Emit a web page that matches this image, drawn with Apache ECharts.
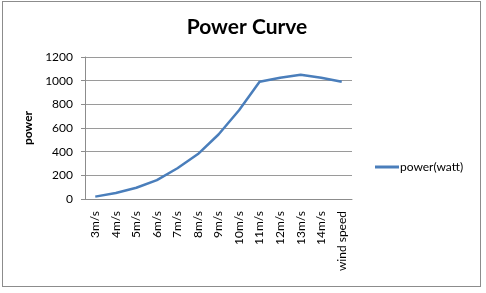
<!DOCTYPE html>
<html>
<head>
<meta charset="utf-8">
<script src="https://cdn.jsdelivr.net/npm/echarts@6/dist/echarts.min.js"></script>
<style>
html,body{margin:0;padding:0;background:#fff;}
#wrap{position:absolute;left:2px;top:1px;width:479px;height:286px;border:1px solid #8c8c8c;box-sizing:border-box;}
#chart{position:absolute;left:0;top:0;width:486px;height:293px;}
</style>
</head>
<body>
<div id="wrap"></div>
<div id="chart"></div>
<script>
const categories = ['3m/s','4m/s','5m/s','6m/s','7m/s','8m/s','9m/s','10m/s','11m/s','12m/s','13m/s','14m/s','wind speed'];
const powerWatt = [20, 50, 95, 160, 260, 380, 545, 750, 990, 1025, 1050, 1025, 990];
const yTicks = [0, 200, 400, 600, 800, 1000, 1200];
const seriesName = 'power(watt)';

const chart = echarts.init(document.getElementById('chart'), null, {renderer:'canvas'});
chart.setOption({
  animation:false,
  backgroundColor:'transparent',
  title:{text:'Power Curve', left:242, textAlign:'center', top:12,
    textStyle:{fontFamily:'Lato, sans-serif', fontWeight:'bold', fontSize:21, color:'#000'}},
  legend:{data:[seriesName], left:370, top:156, itemWidth:24, itemHeight:3, itemGap:2,
    icon:'rect',
    textStyle:{fontFamily:'Lato, sans-serif', fontSize:12, color:'#000', padding:[0,0,0,-4]}},
  grid:{left:85, right:134, top:57, bottom:94, containLabel:false},
  xAxis:{type:'category', data:categories, boundaryGap:true,
    axisLine:{lineStyle:{color:'#8c8c8c'}},
    axisTick:{show:false},
    axisLabel:{rotate:90, margin:12, interval:0, fontFamily:'Lato, sans-serif', fontSize:12, color:'#000'}},
  yAxis:{type:'value', min:yTicks[0], max:yTicks[yTicks.length-1], interval:200,
    name:'power', nameLocation:'middle', nameGap:48, nameRotate:90,
    nameTextStyle:{fontFamily:'Lato, sans-serif', fontWeight:'bold', fontSize:12, color:'#000'},
    axisLine:{show:true, lineStyle:{color:'#8c8c8c'}},
    axisTick:{show:true, length:4, inside:false, lineStyle:{color:'#8c8c8c'}},
    axisLabel:{margin:12, fontFamily:'Lato, sans-serif', fontSize:12, color:'#000',
      formatter:function(v){return String(v);}},
    splitLine:{lineStyle:{color:'#9a9a9a', width:1}}},
  series:[{name:seriesName, type:'line', data:powerWatt, showSymbol:false, smooth:false,
    lineStyle:{color:'#4a7ebb', width:2.5}, itemStyle:{color:'#4a7ebb'}}]
});
</script>
</body>
</html>
